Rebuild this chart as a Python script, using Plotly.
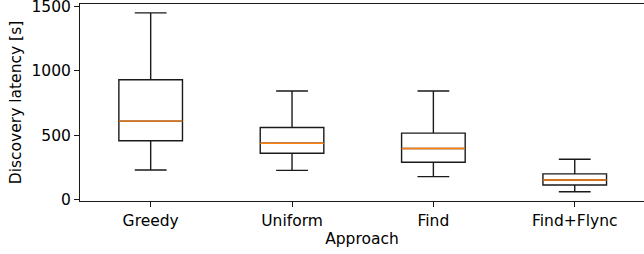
import plotly.graph_objects as go

categories = ["Greedy", "Uniform", "Find", "Find+Flync"]
lower_whisker = [228, 226, 177, 59]
q1 = [456, 359, 289, 112]
median = [609, 437, 396, 151]
q3 = [932, 560, 516, 198]
upper_whisker = [1453, 844, 844, 312]
y_ticks = [0, 500, 1000, 1500]

positions = list(range(1, len(categories) + 1))
box_w = 0.45

fig = go.Figure()
fig.add_trace(go.Box(
    x=positions, q1=q1, median=median, q3=q3,
    lowerfence=lower_whisker, upperfence=upper_whisker,
    width=box_w, whiskerwidth=0.5,
    fillcolor="rgba(255,255,255,0)",
    line=dict(color="#1a1a1a", width=1.4),
    boxpoints=False, showlegend=False, hoverinfo="skip",
))
# orange median lines
mx, my = [], []
for p, m in zip(positions, median):
    mx += [p - box_w / 2, p + box_w / 2, None]
    my += [m, m, None]
fig.add_trace(go.Scatter(x=mx, y=my, mode="lines",
                         line=dict(color="#ff7f0e", width=1.4),
                         showlegend=False, hoverinfo="skip"))

font = dict(family="DejaVu Sans", size=15.5, color="#000000")
fig.update_layout(
    width=644, height=254,
    margin=dict(l=80, r=0, t=4, b=53),
    paper_bgcolor="white", plot_bgcolor="white",
    font=font,
    xaxis=dict(
        range=[0.5, 4.49], tickvals=positions, ticktext=categories,
        showgrid=False, zeroline=False, automargin=False,
        showline=True, linecolor="#1a1a1a", linewidth=1, mirror=True,
        ticks="outside", ticklen=5, tickcolor="#1a1a1a", tickwidth=1,
        title=dict(text="Approach", standoff=4, font=font),
    ),
    yaxis=dict(
        range=[-13, 1522], tickvals=y_ticks,
        showgrid=False, zeroline=False, automargin=False,
        ticklabeloverflow="allow",
        showline=True, linecolor="#1a1a1a", linewidth=1, mirror=False,
        ticks="outside", ticklen=5, tickcolor="#1a1a1a", tickwidth=1,
        title=dict(text="Discovery latency [s]", standoff=6, font=font),
    ),
)
fig.write_html("out.html", config={"displayModeBar": False},
               post_script="document.body.style.margin='0';document.body.style.overflow='hidden';")
